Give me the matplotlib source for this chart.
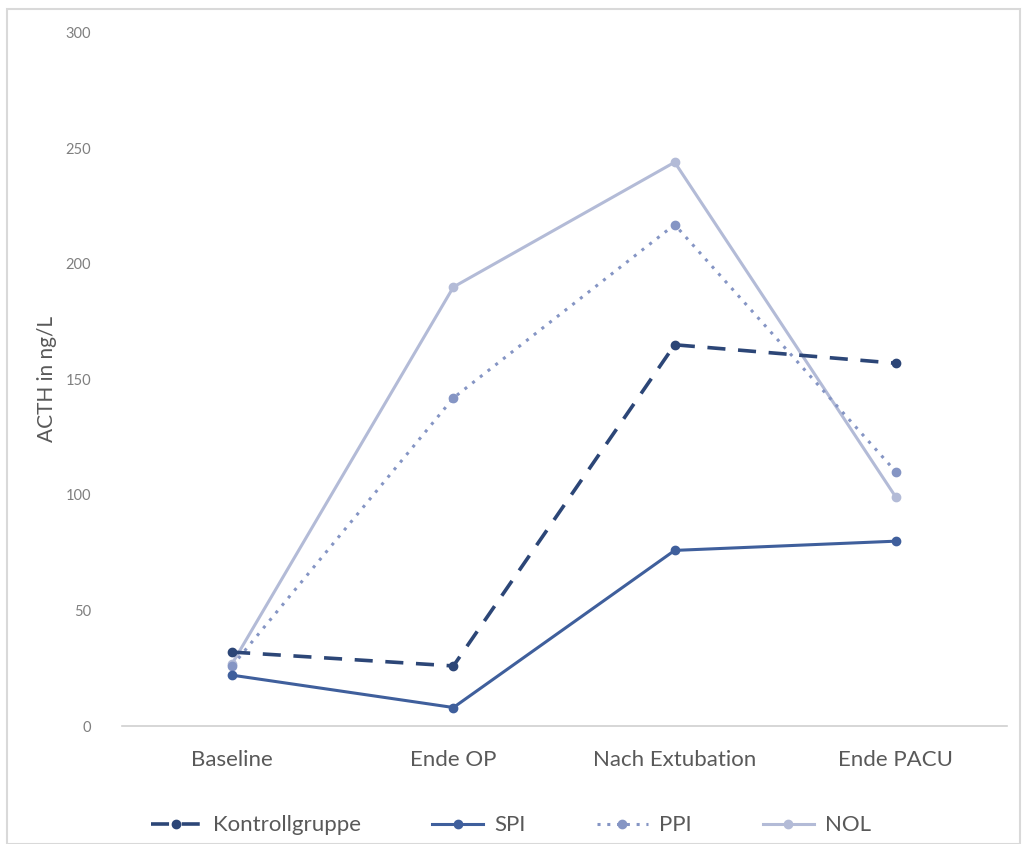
import matplotlib
matplotlib.use("Agg")
import matplotlib.pyplot as plt
from matplotlib.lines import Line2D
from matplotlib.patches import Rectangle

plt.rcParams['font.family'] = ['Lato', 'Open Sans', 'DejaVu Sans']

categories = ["Baseline", "Ende OP", "Nach Extubation", "Ende PACU"]
kontrollgruppe = [32, 26, 165, 157]
spi = [22, 8, 76, 80]
ppi = [26, 142, 217, 110]
nol = [27, 190, 244, 99]
y_ticks = [0, 50, 100, 150, 200, 250, 300]

fig = plt.figure(figsize=(10.22, 8.44), dpi=100)
ax = fig.add_axes([0.1189, 0.1398, 0.866, 0.8213])

x = list(range(len(categories)))
series = [
    ("NOL", nol, "#b3bbd7", "-", 2.2),
    ("PPI", ppi, "#8595c4", (0, (1, 2.2)), 2.2),
    ("SPI", spi, "#3f5f9c", "-", 2.2),
    ("Kontrollgruppe", kontrollgruppe, "#2c4677", (0, (5, 3.5)), 2.6),
]
for name, vals, col, ls, lw in series:
    ax.plot(x, vals, color=col, linestyle=ls, linewidth=lw, marker="o",
            markersize=6, markerfacecolor=col, markeredgecolor=col,
            label=name, zorder=3)

ax.set_xlim(-0.5, 3.5)
ax.set_ylim(0, 300)
ax.set_yticks(y_ticks)
ax.set_yticklabels([str(v) for v in y_ticks], fontsize=10.5, color="#7f7f7f")
ax.set_xticks(x)
ax.set_xticklabels(categories, fontsize=16, color="#595959")
ax.tick_params(axis="both", length=0)
ax.tick_params(axis="y", pad=22)
ax.tick_params(axis="x", pad=17)
for side in ("top", "right", "left"):
    ax.spines[side].set_visible(False)
ax.spines["bottom"].set_color("#d0d0d0")
ax.spines["bottom"].set_linewidth(1.2)
ax.set_ylabel("ACTH in ng/L", fontsize=15, color="#595959", labelpad=6)

# legend in the chart's series order
order = ["Kontrollgruppe", "SPI", "PPI", "NOL"]
style = {s[0]: s for s in series}
handles = []
for name in order:
    _, _, col, ls, lw = style[name]
    handles.append(Line2D([0], [0], color=col, linestyle=ls, linewidth=lw,
                          marker="o", markersize=6, markerfacecolor=col,
                          markeredgecolor=col))
leg = fig.legend(handles, order, loc="center", bbox_to_anchor=(0.5, 0.022),
                 ncol=4, frameon=False, fontsize=16, handlelength=2.3,
                 columnspacing=3.2, handletextpad=0.5)
for t in leg.get_texts():
    t.set_color("#595959")

# outer chart frame
fig.patches.append(Rectangle((0.007, 0.0), 0.991, 0.989, transform=fig.transFigure,
                             fill=False, edgecolor="#d9d9d9", linewidth=1.5))

fig.savefig("out.png", dpi=100, facecolor="white")
